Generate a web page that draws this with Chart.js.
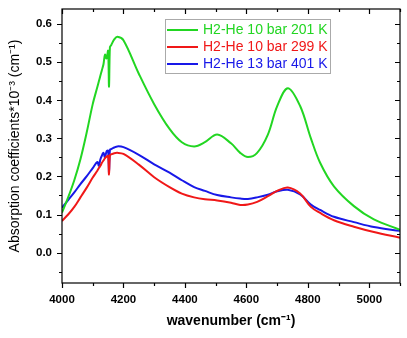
<!DOCTYPE html>
<html>
<head>
<meta charset="utf-8">
<script src="https://cdn.jsdelivr.net/npm/chart.js@4"></script>
<style>
  html, body { margin: 0; padding: 0; background: #fff; }
  #wrap { width: 407px; height: 338px; }
</style>
</head>
<body>
<div id="wrap"><canvas id="c" width="407" height="338"></canvas></div>
<script>
// wavenumber grid (cm-1), denser around the sharp lines near 4150
const wavenumber = [4000, 4020, 4040, 4060, 4080, 4100, 4115, 4120, 4125, 4130, 4135, 4140, 4145, 4150, 4153, 4156, 4160, 4170, 4180, 4200, 4250, 4300, 4350, 4390, 4430, 4465, 4505, 4550, 4580, 4605, 4635, 4670, 4700, 4735, 4775, 4810, 4840, 4885, 4950, 5015, 5100];

const he201 = [0.105, 0.145, 0.19, 0.245, 0.314, 0.39, 0.435, 0.45, 0.465, 0.48, 0.495, 0.52, 0.51, 0.53, 0.436, 0.54, 0.545, 0.56, 0.567, 0.558, 0.47, 0.39, 0.325, 0.29, 0.279, 0.29, 0.31, 0.287, 0.262, 0.251, 0.262, 0.31, 0.384, 0.432, 0.385, 0.30, 0.236, 0.174, 0.122, 0.087, 0.060];
const he299 = [0.083, 0.10, 0.12, 0.145, 0.17, 0.197, 0.215, 0.222, 0.228, 0.236, 0.242, 0.248, 0.252, 0.254, 0.205, 0.256, 0.258, 0.261, 0.262, 0.259, 0.231, 0.198, 0.172, 0.155, 0.145, 0.14, 0.137, 0.131, 0.125, 0.126, 0.133, 0.148, 0.162, 0.171, 0.155, 0.12, 0.104, 0.085, 0.068, 0.054, 0.039];
const he401 = [0.118, 0.138, 0.158, 0.18, 0.20, 0.222, 0.238, 0.228, 0.245, 0.255, 0.262, 0.25, 0.266, 0.268, 0.21, 0.27, 0.272, 0.276, 0.279, 0.277, 0.257, 0.232, 0.21, 0.19, 0.172, 0.162, 0.151, 0.145, 0.142, 0.141, 0.145, 0.152, 0.161, 0.165, 0.153, 0.126, 0.112, 0.094, 0.08, 0.067, 0.057];

const seriesLabels = ['H2-He 10 bar 201 K', 'H2-He 10 bar 299 K', 'H2-He 13 bar 401 K'];
const seriesColors = ['rgb(34,214,34)', 'rgb(240,24,24)', 'rgb(24,24,232)'];

const xTicks = [4000, 4200, 4400, 4600, 4800, 5000];
const xMinor = [4100, 4300, 4500, 4700, 4900, 5100];
const yTicks = [0, 0.1, 0.2, 0.3, 0.4, 0.5, 0.6];
const yMinor = [-0.05, 0.05, 0.15, 0.25, 0.35, 0.45, 0.55];

const pts = ys => wavenumber.map((x, i) => ({ x, y: ys[i] }));

const frame = {
  id: 'frame',
  afterDatasetsDraw(chart) {
    const { ctx, chartArea: a, scales: { x, y } } = chart;
    ctx.save();
    ctx.strokeStyle = '#000';
    ctx.lineWidth = 1.2;
    ctx.strokeRect(a.left, a.top, a.right - a.left, a.bottom - a.top);
    ctx.beginPath();
    const xt = (v, len) => {
      const p = Math.round(x.getPixelForValue(v)) + 0.5;
      ctx.moveTo(p, a.bottom); ctx.lineTo(p, a.bottom + len);
      ctx.moveTo(p, a.top); ctx.lineTo(p, a.top + len);
    };
    const yt = (v, len) => {
      const p = Math.round(y.getPixelForValue(v)) + 0.5;
      ctx.moveTo(a.left, p); ctx.lineTo(a.left - len, p);
      ctx.moveTo(a.right, p); ctx.lineTo(a.right - len, p);
    };
    xTicks.forEach(v => xt(v, 5));
    xMinor.forEach(v => xt(v, 3));
    yTicks.forEach(v => yt(v, 5));
    yMinor.forEach(v => yt(v, 3));
    ctx.stroke();

    // legend box inside the plot
    const lx = 165, ly = 19, lw = 165, lh = 54;
    ctx.fillStyle = '#fff';
    ctx.fillRect(lx, ly, lw, lh);
    ctx.strokeStyle = '#aaa';
    ctx.lineWidth = 1;
    ctx.strokeRect(lx + 0.5, ly + 0.5, lw, lh);
    ctx.font = '14px "Liberation Sans", Arial, sans-serif';
    ctx.textBaseline = 'middle';
    chart.data.datasets.forEach((ds, i) => {
      const ry = ly + 11 + i * 17;
      ctx.strokeStyle = ds.borderColor;
      ctx.lineWidth = 2;
      ctx.beginPath();
      ctx.moveTo(lx + 2, ry); ctx.lineTo(lx + 33, ry);
      ctx.stroke();
      ctx.fillStyle = ds.borderColor;
      ctx.fillText(ds.label, lx + 38, ry + 0.5);
    });
    ctx.restore();
  }
};

new Chart(document.getElementById('c'), {
  type: 'line',
  data: {
    datasets: [he201, he299, he401].map((d, i) => ({
      label: seriesLabels[i],
      data: pts(d),
      borderColor: seriesColors[i],
      borderWidth: 2,
      pointRadius: 0,
      tension: 0.35,
    })),
  },
  options: {
    responsive: false,
    animation: false,
    layout: { padding: { top: 9, right: 7 } },
    plugins: { legend: { display: false }, tooltip: { enabled: false } },
    scales: {
      x: {
        type: 'linear', min: 4000, max: 5100,
        afterBuildTicks: s => { s.ticks = xTicks.map(v => ({ value: v })); },
        afterFit: s => { s.height = 55; },
        grid: { display: false },
        border: { display: false },
        ticks: { color: '#000', font: { family: '"Liberation Sans", Arial', size: 11.5, weight: 'bold' }, padding: 2, maxRotation: 0, callback: v => String(v) },
        title: { display: true, text: 'wavenumber (cm⁻¹)', color: '#000', font: { family: '"Liberation Sans", Arial', size: 14, weight: 'bold' }, padding: { top: 4, bottom: 8 } },
      },
      y: {
        type: 'linear', min: -0.08, max: 0.64,
        afterBuildTicks: s => { s.ticks = yTicks.map(v => ({ value: v })); },
        afterFit: s => { s.width = 62; },
        grid: { display: false },
        border: { display: false },
        ticks: { color: '#000', font: { family: '"Liberation Sans", Arial', size: 11.5, weight: 'bold' }, padding: 2, callback: v => v.toFixed(1) },
        title: { display: true, text: 'Absorption coefficients*10⁻³ (cm⁻¹)', color: '#000', font: { family: '"Liberation Sans", Arial', size: 14 }, padding: { top: 7, bottom: 0 } },
      },
    },
  },
  plugins: [frame],
});
</script>
</body>
</html>
